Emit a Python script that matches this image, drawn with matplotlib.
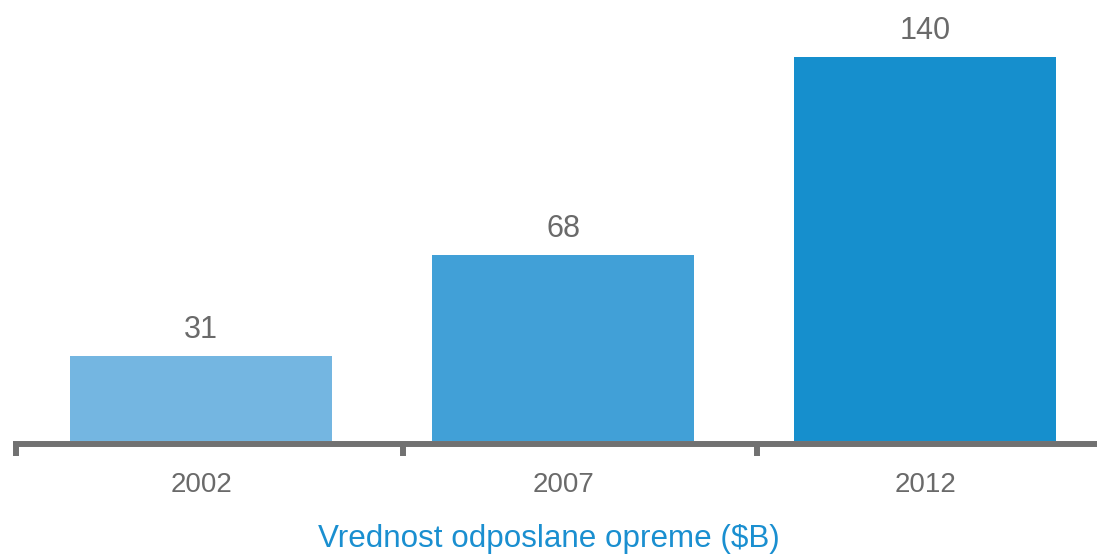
import matplotlib
matplotlib.use("Agg")
import matplotlib.pyplot as plt

categories = ["2002", "2007", "2012"]
values = [31, 68, 140]
colors = ["#74b6e1", "#41a0d7", "#168fcd"]
xlabel = "Vrednost odposlane opreme ($B)"

plt.rcParams['font.family'] = ['Liberation Sans', 'DejaVu Sans']

W, H = 1097, 556
fig = plt.figure(figsize=(W / 100, H / 100), dpi=100)
base_px = 115
ax = fig.add_axes([0, base_px / H, 1, (H - base_px) / H])

x = list(range(len(categories)))
bars = ax.bar(x, values, width=0.724, color=colors, zorder=2)

pxu = 362.0
x0 = -201.0 / pxu
x1 = x0 + W / pxu
ax.set_xlim(x0, x1)
ax.set_ylim(0, (H - base_px) / 2.74)

for s in ["top", "right", "left"]:
    ax.spines[s].set_visible(False)
gray = "#717171"
ax.spines["bottom"].set_color(gray)
ax.spines["bottom"].set_linewidth(4.3)
ax.spines["bottom"].set_capstyle("butt")
ax.spines["bottom"].set_position(("outward", 2.2))
ax.spines["bottom"].set_bounds(-0.518, x1)
ax.yaxis.set_visible(False)

ax.set_xticks(x)
ax.set_xticklabels(categories, fontsize=20, color="#6a6a6a")
ax.tick_params(axis="x", which="major", length=0, pad=20)
ax.set_xticks([-0.511, 0.557, 1.535], minor=True)
ax.tick_params(axis="x", which="minor", length=8.6, width=4.3, color=gray, direction="out")

ax.bar_label(bars, labels=[str(v) for v in values], padding=8, fontsize=22, color="#6a6a6a")

ax.set_xlabel(xlabel, fontsize=22.6, color="#1a8fd0", labelpad=19)

fig.savefig("out.png", dpi=100)
